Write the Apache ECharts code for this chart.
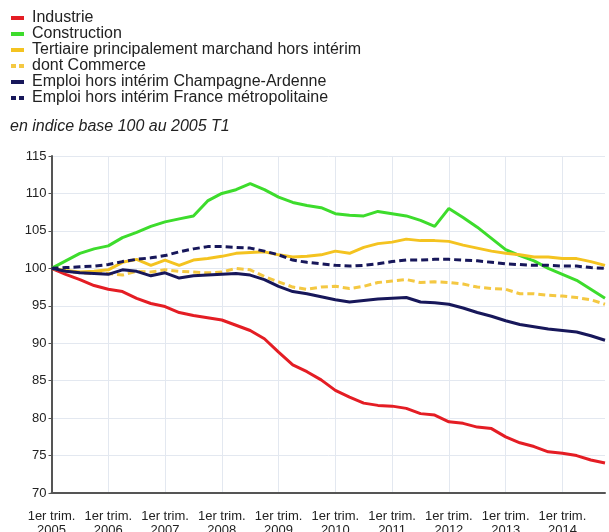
<!DOCTYPE html>
<html><head><meta charset="utf-8">
<script src="https://cdn.jsdelivr.net/npm/echarts@6/dist/echarts.min.js"></script>
<style>html,body{margin:0;padding:0;background:#fff}#c{width:609px;height:532px}</style>
</head><body><div id="c"></div>
<script>
var quarters = [
 '2005 T1','2005 T2','2005 T3','2005 T4','2006 T1','2006 T2','2006 T3','2006 T4',
 '2007 T1','2007 T2','2007 T3','2007 T4','2008 T1','2008 T2','2008 T3','2008 T4',
 '2009 T1','2009 T2','2009 T3','2009 T4','2010 T1','2010 T2','2010 T3','2010 T4',
 '2011 T1','2011 T2','2011 T3','2011 T4','2012 T1','2012 T2','2012 T3','2012 T4',
 '2013 T1','2013 T2','2013 T3','2013 T4','2014 T1','2014 T2','2014 T3','2014 T4'];
var seriesNames = ['Industrie','Construction','Tertiaire principalement marchand hors intérim','dont Commerce','Emploi hors intérim Champagne-Ardenne','Emploi hors intérim France métropolitaine'];
var industrie = [100,99.2,98.5,97.7,97.2,96.9,96.0,95.3,94.9,94.1,93.7,93.4,93.1,92.4,91.7,90.6,88.8,87.1,86.2,85.1,83.7,82.8,82.0,81.7,81.6,81.3,80.6,80.4,79.5,79.3,78.8,78.6,77.5,76.7,76.2,75.5,75.3,75.0,74.4,74.0];
var construction = [100,101,102,102.6,103.0,104.1,104.8,105.6,106.2,106.6,107.0,109.0,110.0,110.5,111.3,110.5,109.5,108.8,108.4,108.1,107.3,107.1,107.0,107.6,107.3,107.0,106.4,105.6,108.0,106.8,105.5,104.0,102.5,101.7,101.0,100.0,99.2,98.4,97.2,96.0];
var tertiaire = [100,99.7,99.5,99.6,99.8,100.8,101.2,100.4,101.1,100.4,101.1,101.3,101.6,102.0,102.1,102.2,101.8,101.5,101.6,101.8,102.3,102.0,102.8,103.3,103.5,103.9,103.7,103.7,103.6,103.1,102.7,102.3,102.0,101.8,101.5,101.5,101.3,101.3,100.9,100.4];
var commerce = [100,99.6,99.4,99.3,99.3,99.1,99.6,99.5,99.8,99.6,99.5,99.4,99.5,100.0,99.8,98.9,98.2,97.5,97.2,97.5,97.6,97.3,97.6,98.1,98.3,98.5,98.1,98.2,98.1,97.9,97.5,97.3,97.2,96.6,96.6,96.4,96.3,96.1,95.8,95.2];
var champagne = [100,99.6,99.4,99.3,99.2,99.8,99.6,99.0,99.4,98.7,99.0,99.1,99.2,99.3,99.1,98.5,97.6,96.9,96.6,96.2,95.8,95.5,95.7,95.9,96.0,96.1,95.5,95.4,95.2,94.7,94.1,93.6,93.0,92.5,92.2,91.9,91.7,91.5,91.0,90.4];
var france = [100,100.1,100.2,100.3,100.5,100.9,101.2,101.4,101.7,102.2,102.6,102.9,102.9,102.8,102.7,102.3,101.8,101.1,100.8,100.6,100.4,100.3,100.4,100.6,100.9,101.1,101.1,101.2,101.2,101.1,101.0,100.8,100.6,100.5,100.4,100.4,100.3,100.3,100.1,100.0];
var subtitle = 'en indice base 100 au 2005 T1';

var colors = ['#e41d24','#3ddc2c','#f4c320','#f4c842','#17175a','#17175a'];
var dashed = [false,false,false,true,false,true];
var datas = [industrie,construction,tertiaire,commerce,champagne,france];
var solidIcon = 'path://M0,0H13V4H0Z';
var dashIcon = 'path://M0,0H5V4H0Z M8,0H13V4H8Z';
var FF = 'Liberation Sans, Arial, sans-serif';

var chart = echarts.init(document.getElementById('c'), null, {renderer:'canvas'});
chart.setOption({
  animation:false,
  textStyle:{fontFamily:FF},
  title:{text:subtitle,left:10,top:119,padding:0,
    textStyle:{fontStyle:'italic',fontWeight:'normal',fontSize:16,color:'#222',fontFamily:FF}},
  legend:{orient:'vertical',left:11,top:10,padding:0,itemGap:0,itemWidth:13,itemHeight:4,
    textStyle:{fontSize:16,color:'#222',lineHeight:16,padding:[0,0,0,3],fontFamily:FF},
    data:seriesNames.map(function(n,i){return {name:n,icon:dashed[i]?dashIcon:solidIcon,itemStyle:{color:colors[i]}};})},
  grid:{left:51.5,right:4,top:156,bottom:39,containLabel:false,outerBoundsMode:'none'},
  xAxis:{type:'category',data:quarters,boundaryGap:false,
    axisLine:{show:true,lineStyle:{color:'#555',width:2}},
    axisTick:{show:false},
    axisLabel:{interval:3,margin:16,fontSize:13,lineHeight:14,color:'#222',
      formatter:function(v){return '1er trim.\n'+v.slice(0,4);}},
    splitLine:{show:true,interval:3,lineStyle:{color:'#e3e8f0',width:1}}},
  yAxis:{type:'value',min:70,max:115,interval:5,
    axisLine:{show:true,lineStyle:{color:'#555',width:2}},
    axisTick:{show:true,length:3,lineStyle:{color:'#555'}},
    axisLabel:{fontSize:13,color:'#222',margin:5},
    splitLine:{show:true,lineStyle:{color:'#e3e8f0',width:1}}},
  series:datas.map(function(d,i){return {name:seriesNames[i],type:'line',data:d,showSymbol:false,symbol:'none',
    lineStyle:{color:colors[i],width:3,type:dashed[i]?[7,4]:'solid'},itemStyle:{color:colors[i]},z:2+i};})
});
</script></body></html>
